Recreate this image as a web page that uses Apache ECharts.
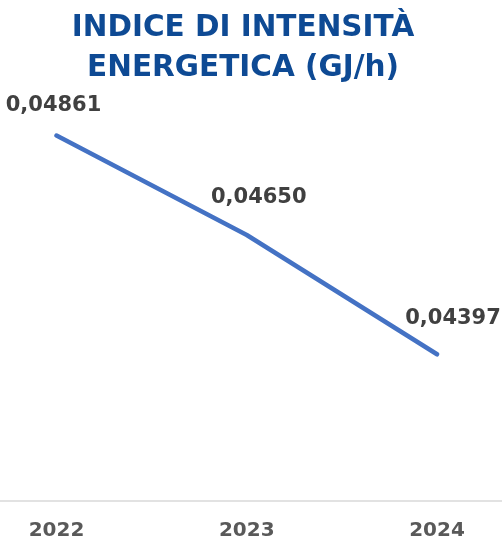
<!DOCTYPE html>
<html>
<head>
<meta charset="utf-8">
<script src="https://cdn.jsdelivr.net/npm/echarts@6/dist/echarts.min.js"></script>
<style>
html,body{margin:0;padding:0;background:#fff;}
#c{width:502px;height:541px;}
</style>
</head>
<body>
<div id="c"></div>
<script>
const categories = ['2022', '2023', '2024'];
const values = [0.04861, 0.04650, 0.04397];
const titleText = 'INDICE DI INTENSITÀ\nENERGETICA (GJ/h)';

const labelOffsets = [[-3, -30], [12, -37], [16, -36]];
const FONT = 'DejaVu Sans';

const chart = echarts.init(document.getElementById('c'));
chart.setOption({
  backgroundColor: '#ffffff',
  animation: false,
  title: {
    text: titleText,
    left: 243,
    textAlign: 'center',
    top: 8,
    padding: 0,
    textStyle: {
      fontFamily: FONT,
      fontWeight: 'bold',
      fontSize: 29.5,
      lineHeight: 40,
      color: '#0E4A94'
    }
  },
  grid: [
    { left: 56.5, right: 65, top: 70, bottom: 40 },
    { left: 0, right: 0, top: 70, bottom: 40 }
  ],
  xAxis: [{
    type: 'category',
    gridIndex: 0,
    data: categories,
    boundaryGap: false,
    axisLine: { show: false },
    axisTick: { show: false },
    axisLabel: {
      margin: 22,
      fontFamily: FONT,
      fontWeight: 'bold',
      fontSize: 20,
      color: '#595959'
    },
    splitLine: { show: false }
  }, {
    type: 'value',
    gridIndex: 1,
    min: 0,
    max: 1,
    axisLine: { show: true, onZero: false, lineStyle: { color: '#D9D9D9', width: 1.5 } },
    axisTick: { show: false },
    axisLabel: { show: false },
    splitLine: { show: false }
  }],
  yAxis: [{
    type: 'value',
    gridIndex: 0,
    min: 0.0409,
    max: 0.05,
    show: false,
    splitLine: { show: false }
  }, {
    type: 'value',
    gridIndex: 1,
    min: 0,
    max: 1,
    show: false,
    splitLine: { show: false }
  }],
  series: [{
    type: 'line',
    xAxisIndex: 0,
    yAxisIndex: 0,
    data: values.map((v, i) => ({
      value: v,
      label: { offset: labelOffsets[i] }
    })),
    symbol: 'circle',
    symbolSize: 1,
    showSymbol: true,
    lineStyle: { color: '#4472C4', width: 4.5, cap: 'round' },
    itemStyle: { color: '#4472C4' },
    label: {
      show: true,
      position: 'inside',
      fontFamily: FONT,
      fontWeight: 'bold',
      fontSize: 21,
      color: '#404040',
      formatter: p => p.value.toFixed(5).replace('.', ',')
    }
  }]
});
</script>
</body>
</html>
